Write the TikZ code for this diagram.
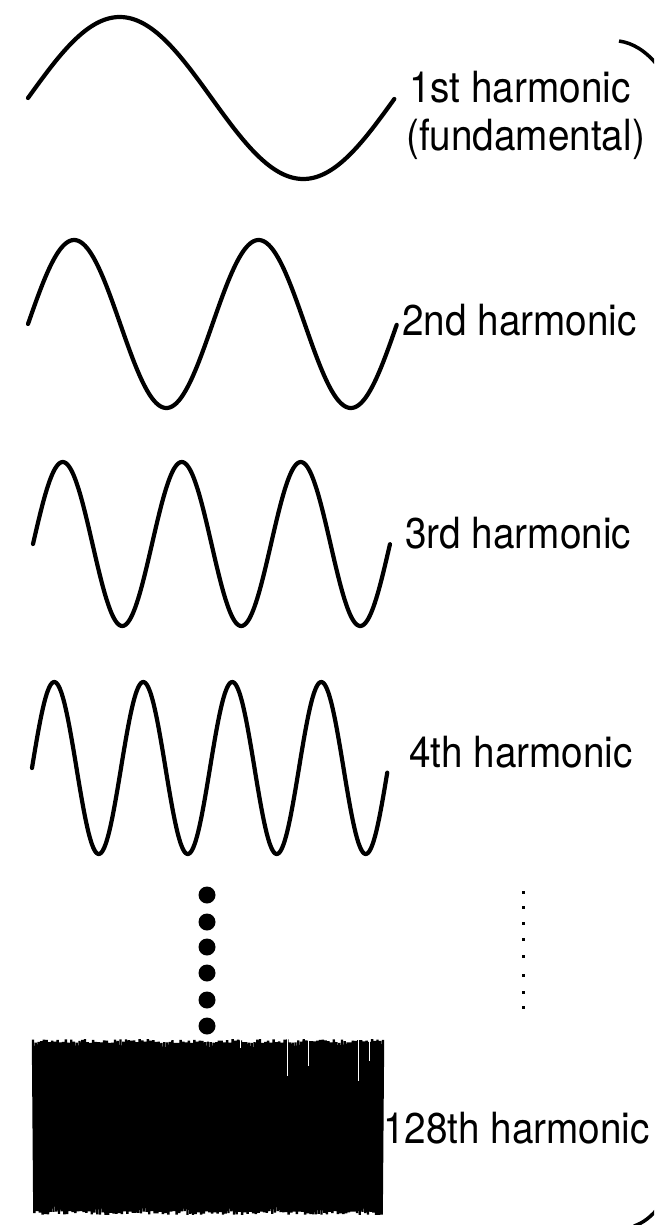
\documentclass[tikz,border=0pt]{standalone}
\usepackage{fontspec}
\setmainfont[FakeStretch=0.9]{TeX Gyre Heros}
\begin{document}
\begin{tikzpicture}[x=1pt,y=-1pt,
  wave/.style={line width=4.2pt, line join=round, line cap=round},
  lbl/.style={anchor=base west, inner sep=0pt, font=\fontsize{43}{48}\selectfont},
  bigdot/.style={fill=black, circle, inner sep=0pt, minimum size=17pt},
  smalldot/.style={fill=black, inner sep=0pt, minimum width=3pt, minimum height=3pt}]
\useasboundingbox (0,0) rectangle (654,1225);
\clip (0,0) rectangle (654,1225);
\pgfmathsetseed{7}
% 1st harmonic
\draw[wave] plot[domain=0:1, samples=150, smooth] ({28+367*\x},{98-81*sin(360*\x)});
\node[lbl] (h1) at (409,103) {1st harmonic};
\node[lbl] (h1b) at (406,151) {(fundamental)};
% 2nd
\draw[wave] plot[domain=0:1, samples=220, smooth] ({28+369*\x},{324-84*sin(720*\x)});
\node[lbl] (h2) at (402,335) {2nd harmonic};
% 3rd
\draw[wave] plot[domain=0:1, samples=260, smooth] ({33+357*\x},{544-82*sin(1080*\x)});
\node[lbl] (h3) at (405,548) {3rd harmonic};
% 4th
\draw[wave] plot[domain=0:1, samples=320, smooth] ({32+356*\x},{768-86*sin(1440*\x)});
\node[lbl] (h4) at (409,767) {4th harmonic};
% dots
\foreach \i/\y in {1/895,2/922,3/947,4/973,5/1000,6/1026}
  \node[bigdot] (d\i) at (207,\y) {};
\foreach \i/\y in {1/892,2/907,3/923,4/939,5/956,6/975,7/992,8/1007}
  \node[smalldot] (s\i) at (523,\y) {};
% 128th
\draw[line width=2.4pt, line join=miter] plot[samples at={0,...,256}]
  ({33+1.3672*\x},{1127+ifthenelse(mod(\x,2)==0,-1,1)*(88-4*rnd)});
\foreach \xx/\len in {287/40,308/30,358/45,369/25,240/12}
  \draw[white, line width=0.8pt] (\xx,1036) -- ++(0,\len);
\node[lbl] (h128) at (383,1143) {128th harmonic};
% bracket ends
\draw[line width=3.5pt] (619,41) .. controls (633,43) and (646,51) .. (658,66);
\draw[line width=3.5pt] (634,1226) .. controls (643,1223) and (651,1217) .. (660,1206);
\end{tikzpicture}
\end{document}
